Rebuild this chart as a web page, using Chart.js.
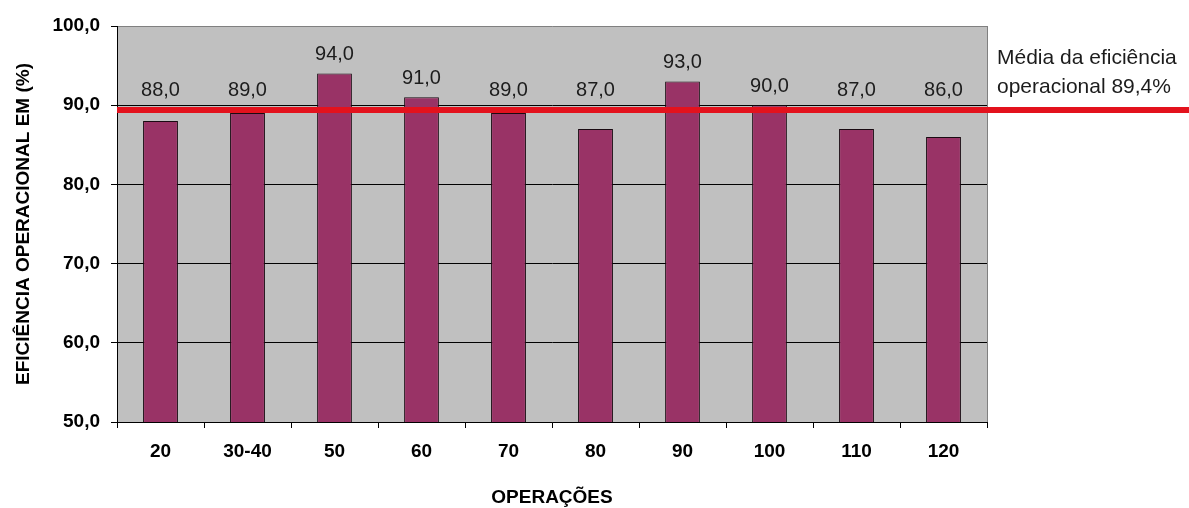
<!DOCTYPE html>
<html>
<head>
<meta charset="utf-8">
<script src="https://cdn.jsdelivr.net/npm/chart.js@4/dist/chart.umd.min.js"></script>
<style>
  html, body { margin: 0; padding: 0; background: #ffffff; }
  #wrap { width: 1189px; height: 508px; }
</style>
</head>
<body>
<div id="wrap"><canvas id="c" width="1189" height="508"></canvas></div>
<script>
// Operações e eficiência operacional (%)
const operacoes = ['20', '30-40', '50', '60', '70', '80', '90', '100', '110', '120'];
const eficiencia = [88, 89, 94, 91, 89, 87, 93, 90, 87, 86];
const yTicks = [50, 60, 70, 80, 90, 100];

const media = eficiencia.reduce((a, b) => a + b, 0) / eficiencia.length;

const FONT = '"Liberation Sans", Arial, sans-serif';
const fmt = v => v.toFixed(1).replace('.', ',');

// Fundo cinza da área de plotagem e borda direita
const plotBackground = {
  id: 'plotBackground',
  beforeDraw(chart) {
    const { ctx, chartArea: a } = chart;
    ctx.save();
    ctx.fillStyle = '#c0c0c0';
    ctx.fillRect(a.left, a.top, a.right - a.left, a.bottom - a.top);
    ctx.strokeStyle = '#808080';
    ctx.lineWidth = 1;
    ctx.beginPath();
    ctx.moveTo(a.right + 0.5, a.top);
    ctx.lineTo(a.right + 0.5, a.bottom);
    ctx.stroke();
    ctx.restore();
  }
};

// Linha da média, rótulos dos valores e texto explicativo
const mediaLine = {
  id: 'mediaLine',
  afterDatasetsDraw(chart) {
    const { ctx, chartArea: a, scales: { y } } = chart;
    const yy = y.getPixelForValue(media);
    ctx.save();
    ctx.strokeStyle = '#e3121d';
    ctx.lineWidth = 6;
    ctx.beginPath();
    ctx.moveTo(a.left, yy);
    ctx.lineTo(chart.width, yy);
    ctx.stroke();

    // rótulos acima das barras, sempre acima da linha da média
    const meta = chart.getDatasetMeta(0);
    ctx.fillStyle = '#1c1c1c';
    ctx.font = '20px ' + FONT;
    ctx.textAlign = 'center';
    ctx.textBaseline = 'middle';
    meta.data.forEach((bar, i) => {
      const top = Math.min(bar.y, yy);
      ctx.fillText(fmt(eficiencia[i]), bar.x, top - 19);
    });

    ctx.textAlign = 'left';
    ctx.font = '21px ' + FONT;
    ctx.fillText('Média da eficiência', a.right + 10, yy - 52);
    ctx.fillText('operacional ' + fmt(media) + '%', a.right + 10, yy - 23);
    ctx.restore();
  }
};

new Chart(document.getElementById('c'), {
  type: 'bar',
  data: {
    labels: operacoes,
    datasets: [{
      data: eficiencia,
      backgroundColor: '#993366',
      borderColor: '#1a0a12',
      borderWidth: 1,
      barPercentage: 0.4,
      categoryPercentage: 1.0
    }]
  },
  options: {
    responsive: false,
    animation: false,
    devicePixelRatio: 1,
    layout: { padding: { top: 26, right: 202, left: 0, bottom: 0 } },
    plugins: { legend: { display: false }, tooltip: { enabled: false } },
    scales: {
      x: {
        afterFit(s) { s.height = 86; },
        grid: { drawOnChartArea: false, drawTicks: true, tickLength: 6, color: '#000000', offset: true },
        border: { display: true, color: '#000000', width: 1 },
        ticks: {
          color: '#000000',
          padding: 12,
          maxRotation: 0,
          autoSkip: false,
          font: { family: FONT, size: 19, weight: 'bold' }
        },
        title: {
          display: true,
          text: 'OPERAÇÕES',
          color: '#000000',
          padding: { top: 0, bottom: 1 },
          font: { family: FONT, size: 19, weight: 'bold', lineHeight: 1.0 }
        }
      },
      y: {
        min: 50,
        max: 100,
        afterFit(s) { s.width = 117; },
        afterBuildTicks(s) { s.ticks = yTicks.map(v => ({ value: v })); },
        grid: {
          color: ctx => (ctx.tick && ctx.tick.value === 100) ? '#808080' : '#000000',
          tickColor: '#000000',
          lineWidth: 1,
          drawTicks: true,
          tickLength: 6
        },
        border: { display: true, color: '#000000', width: 1 },
        ticks: {
          color: '#000000',
          padding: 11,
          callback: v => fmt(v),
          font: { family: FONT, size: 19, weight: 'bold' }
        },
        title: {
          display: true,
          text: 'EFICIÊNCIA OPERACIONAL EM (%)',
          color: '#000000',
          padding: { top: 12, bottom: 0 },
          font: { family: FONT, size: 19, weight: 'bold' }
        }
      }
    }
  },
  plugins: [plotBackground, mediaLine]
});
</script>
</body>
</html>
